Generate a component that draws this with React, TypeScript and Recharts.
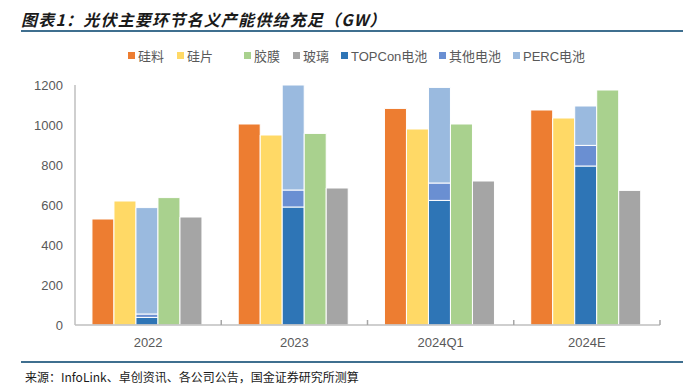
import React from 'react'
import { BarChart, Bar, XAxis, YAxis } from 'recharts'

// Categories and series (GW)
const years = ['2022', '2023', '2024Q1', '2024E']
const polysilicon = [530, 1005, 1083, 1075]
const wafer = [620, 950, 980, 1035]
const topcon = [38, 590, 623, 795]
const otherCell = [17, 85, 87, 103]
const perc = [532, 525, 478, 197]
const film = [637, 958, 1005, 1175]
const glass = [540, 685, 720, 673]
const yTicks = [0, 200, 400, 600, 800, 1000, 1200]

const COLORS = {
  polysilicon: '#ED7D31',
  wafer: '#FFD966',
  film: '#A9D18E',
  glass: '#A5A5A5',
  topcon: '#2E75B6',
  other: '#6A8FD2',
  perc: '#9ABADF',
  text: '#595959',
  axis: '#BFBFBF',
  rule: '#3F6F8F'
}

const data = years.map((year, i) => ({
  year,
  polysilicon: polysilicon[i],
  wafer: wafer[i],
  topcon: topcon[i],
  otherCell: otherCell[i],
  perc: perc[i],
  film: film[i],
  glass: glass[i]
}))

// legend in the original order (with the odd gap after 硅片)
const legendItems = [
  { label: '硅料', color: COLORS.polysilicon, left: 128 },
  { label: '硅片', color: COLORS.wafer, left: 177 },
  { label: '胶膜', color: COLORS.film, left: 244 },
  { label: '玻璃', color: COLORS.glass, left: 293 },
  { label: 'TOPCon电池', color: COLORS.topcon, left: 341 },
  { label: '其他电池', color: COLORS.other, left: 439 },
  { label: 'PERC电池', color: COLORS.perc, left: 513 }
]

const font = '"Liberation Sans", "Noto Sans CJK SC", sans-serif'
const cjk = '"Noto Sans CJK SC", sans-serif'
const TICK_SIZE = 6
const TICK_MARGIN = 7

// category label plus the small Excel-style mark at the right edge of each category
const YearTick = (props: any) => {
  const { x, y, payload } = props
  const axisY = y - TICK_SIZE - TICK_MARGIN
  const edge = x + (payload.offset || 0)
  return (
    <g>
      <line x1={edge} x2={edge} y1={axisY - 5} y2={axisY} stroke="#A6A6A6" strokeWidth={1.5} />
      <text x={x} y={y} dy="0.71em" textAnchor="middle" fill={COLORS.text} fontSize={13} fontFamily={font}>
        {payload.value}
      </text>
    </g>
  )
}

export default function App() {
  return (
    <div style={{ position: 'absolute', left: 0, top: 0, width: 683, height: 391, background: '#fff', overflow: 'hidden' }}>
      <div
        style={{
          position: 'absolute', left: 21, top: 9, fontFamily: cjk, fontSize: 16,
          fontStyle: 'italic', fontWeight: 'bold', color: '#1a1a1a', letterSpacing: 1.2, lineHeight: '20px'
        }}
      >
        图表1：光伏主要环节名义产能供给充足（GW）
      </div>
      <div style={{ position: 'absolute', left: 21, top: 30, width: 662, height: 2, background: COLORS.rule }} />

      {legendItems.map(item => (
        <div
          key={item.label}
          style={{
            position: 'absolute', left: item.left, top: 46, height: 18, display: 'flex',
            alignItems: 'center', fontFamily: font, fontSize: 13, color: COLORS.text, whiteSpace: 'nowrap'
          }}
        >
          <span style={{ width: 7, height: 7, background: item.color, marginRight: 3 }} />
          {item.label}
        </div>
      ))}

      <div style={{ position: 'absolute', left: 0, top: 0 }}>
        <BarChart
          width={683}
          height={391}
          data={data}
          margin={{ top: 85, right: 23, left: 15, bottom: 36 }}
          barCategoryGap="11.6%"
          barGap={0}
        >
          <XAxis
            dataKey="year"
            height={30}
            axisLine={{ stroke: COLORS.axis, strokeWidth: 1.5 }}
            tickLine={false}
            tickSize={TICK_SIZE}
            tickMargin={TICK_MARGIN}
            tick={<YearTick />}
          />
          <YAxis
            width={60}
            domain={[0, 1200]}
            ticks={yTicks}
            axisLine={{ stroke: COLORS.axis, strokeWidth: 1.5 }}
            tickLine={false}
            tickMargin={6}
            tick={{ fill: COLORS.text, fontSize: 13, fontFamily: font }}
          />
          {/* each column gets its own stack id so the cell stack keeps its middle slot */}
          <Bar dataKey="polysilicon" name="硅料" stackId="s1" fill={COLORS.polysilicon} stroke="#fff" strokeWidth={1} isAnimationActive={false} />
          <Bar dataKey="wafer" name="硅片" stackId="s2" fill={COLORS.wafer} stroke="#fff" strokeWidth={1} isAnimationActive={false} />
          <Bar dataKey="topcon" name="TOPCon电池" stackId="s3" fill={COLORS.topcon} stroke="#fff" strokeWidth={1} isAnimationActive={false} />
          <Bar dataKey="otherCell" name="其他电池" stackId="s3" fill={COLORS.other} stroke="#fff" strokeWidth={1} isAnimationActive={false} />
          <Bar dataKey="perc" name="PERC电池" stackId="s3" fill={COLORS.perc} stroke="#fff" strokeWidth={1} isAnimationActive={false} />
          <Bar dataKey="film" name="胶膜" stackId="s4" fill={COLORS.film} stroke="#fff" strokeWidth={1} isAnimationActive={false} />
          <Bar dataKey="glass" name="玻璃" stackId="s5" fill={COLORS.glass} stroke="#fff" strokeWidth={1} isAnimationActive={false} />
        </BarChart>
      </div>

      <div style={{ position: 'absolute', left: 21, top: 361, width: 662, height: 2, background: COLORS.rule }} />
      <div
        style={{
          position: 'absolute', left: 25, top: 369, fontFamily: cjk, fontSize: 12,
          color: '#1a1a1a', letterSpacing: 0, lineHeight: '16px'
        }}
      >
        来源：InfoLink、卓创资讯、各公司公告，国金证券研究所测算
      </div>
    </div>
  )
}
